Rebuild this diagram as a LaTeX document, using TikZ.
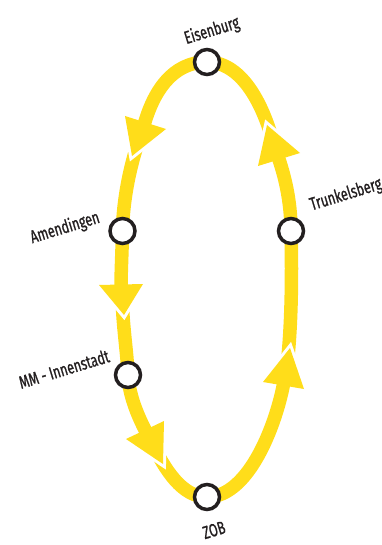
\documentclass[tikz,border=0pt]{standalone}
\usepackage{fontspec}
\setmainfont[FakeStretch=0.7,FakeBold=0.9]{Fira Sans}
\definecolor{lineyellow}{HTML}{FFDD1A}
\definecolor{ink}{HTML}{231F20}
\begin{document}
\begin{tikzpicture}[x=1pt,y=-1pt,
  route/.style={draw=lineyellow,line width=13.5pt},
  stop/.style={circle,draw=ink,fill=white,line width=3.5pt,minimum size=25pt,inner sep=0pt},
  lbl/.style={text=ink,font=\fontsize{18}{18}\selectfont,rotate=17,inner sep=0pt},
  notch/.style={draw=white,line width=6pt,line join=miter},
  head/.style={fill=lineyellow}]
\useasboundingbox (0,0) rectangle (382,545);
% station positions
\coordinate (eis) at (207,62);
\coordinate (ame) at (122.5,231);
\coordinate (mm) at (128,375);
\coordinate (zob) at (207,497);
\coordinate (tru) at (291,231);
% line ends / starts
\coordinate (s1) at (274,145);
\coordinate (e1) at (143.5,127);
\coordinate (s2) at (140,137);
\coordinate (e2) at (121,290);
\coordinate (s3) at (122,296);
\coordinate (e3) at (147,433.5);
\coordinate (s4) at (151,441);
\coordinate (e4) at (284,381.6);
\coordinate (s5) at (286,374);
\coordinate (e5) at (277.7,155.7);
% route segments
\draw[route] (s1) .. controls (262,100) and (240,62) .. (eis) .. controls (172,62) and (153,92) .. (e1);
\draw[route] (s2) .. controls (130,165) and (123,200) .. (ame) .. controls (122,255) and (121,270) .. (e2);
\draw[route] (s3) .. controls (123,330) and (127,350) .. (mm) .. controls (129,395) and (137.6,416) .. (e3);
\draw[route] (s4) .. controls (165,470) and (182,497) .. (zob) .. controls (250,497) and (277,421) .. (e4);
\draw[route] (s5) .. controls (292,330) and (292,270) .. (tru) .. controls (291,200) and (284.3,174.5) .. (e5);
% arrow heads
\coordinate (a1l) at (125,116); \coordinate (a1t) at (132,156); \coordinate (a1r) at (166,129);
\coordinate (a2l) at (99,285);  \coordinate (a2t) at (124,315); \coordinate (a2r) at (143,284);
\coordinate (a3l) at (126,439); \coordinate (a3t) at (163,464); \coordinate (a3r) at (164,421);
\coordinate (a4l) at (263,382); \coordinate (a4t) at (290,348); \coordinate (a4r) at (304,389);
\coordinate (a5l) at (258,166); \coordinate (a5t) at (267,125); \coordinate (a5r) at (300,153);
\foreach \a in {a1,a2,a3,a4,a5}{
  \draw[notch] (\a l) -- (\a t) -- (\a r);
  \fill[head] (\a l) -- (\a t) -- (\a r) -- cycle;
}
% stations
\node[stop] (eisS) at (eis) {};
\node[stop] (ameS) at (ame) {};
\node[stop] (mmS) at (mm) {};
\node[stop] (zobS) at (zob) {};
\node[stop] (truS) at (tru) {};
% labels
\node[lbl] (eisL) at (212,31) {Eisenburg};
\node[lbl] (ameL) at (65,228) {Amendingen};
\node[lbl] (mmL) at (64,369) {MM - Innenstadt};
\node[lbl] (truL) at (346,195) {Trunkelsberg};
\node[lbl] (zobL) at (214,530) {ZOB};
\end{tikzpicture}
\end{document}
